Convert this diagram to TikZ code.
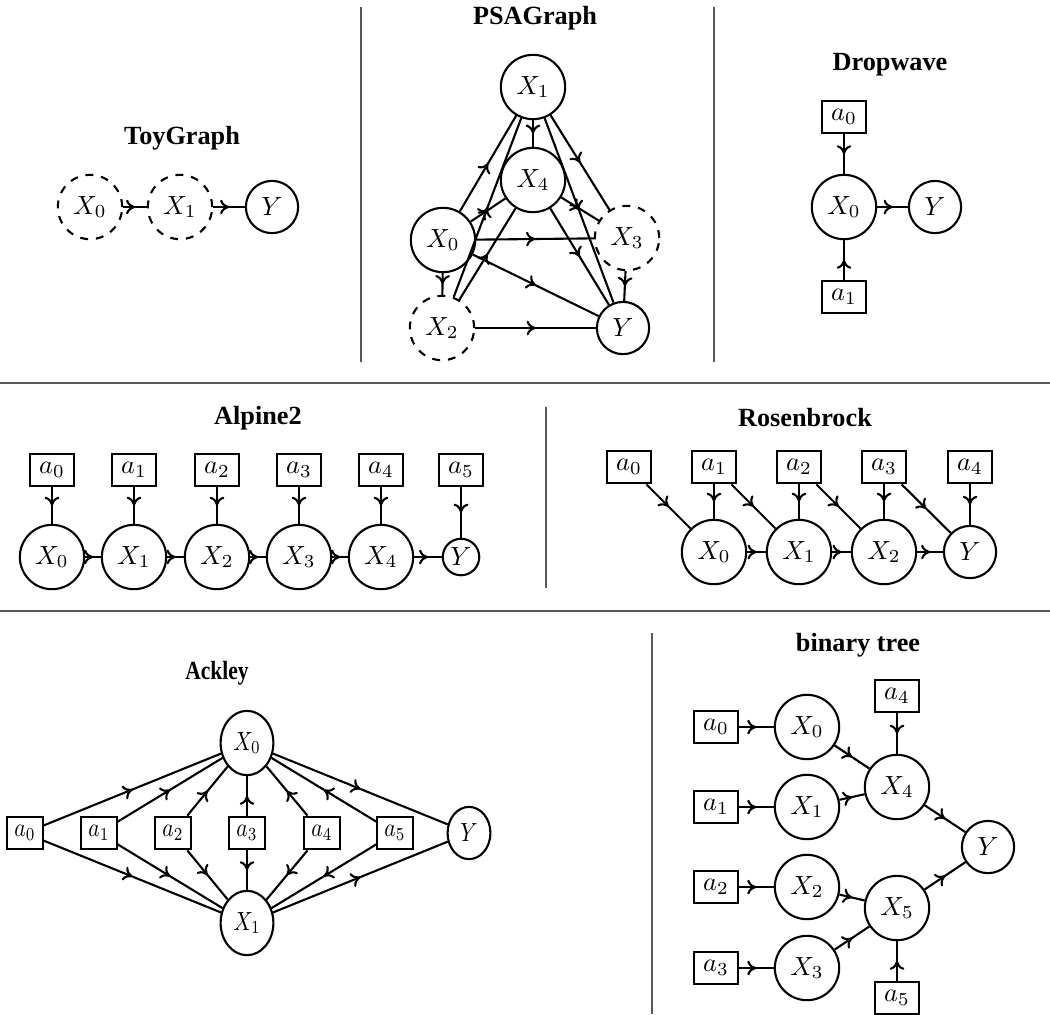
\documentclass[tikz,border=0pt]{standalone}
\usepackage[no-math]{fontspec}
\setmainfont{Liberation Serif}
\usetikzlibrary{arrows.meta}
\usetikzlibrary{decorations.markings}

\tikzset{
  var/.style={circle, draw, thick},
  hidvar/.style={var, dashed},
  act/.style={rectangle, draw, thick},
  gtitle/.style={font=\bfseries},
  link/.style={thick, postaction={decorate}, decoration={markings, mark=at position 0.5 with {\arrow{Computer Modern Rightarrow[length=3.4pt, width=5.6pt]}}}},
  sep/.style={black!65, line width=0.4pt},
  squeeze/.style={xscale=0.82},
}

\begin{document}
\begin{tikzpicture}[x=0.381pt, y=-0.381pt]
	\useasboundingbox (0,0) rectangle (1050,1014);
	% separators
	\draw[sep] (361,7) -- (361,362);
	\draw[sep] (714,7) -- (714,362);
	\draw[sep] (0,383) -- (1050,383);
	\draw[sep] (546,407) -- (546,588);
	\draw[sep] (0,611) -- (1050,611);
	\draw[sep] (652,633) -- (652,1014);

	% ToyGraph
	\node[gtitle] (toy) at (182,138) {ToyGraph};
	\node[hidvar] (t-x0) at (90,207) {$X_0$};
	\node[hidvar] (t-x1) at (180,207) {$X_1$};
	\node[var] (t-y) at (272,207) {$Y$};
	\draw[link] (t-x0) -- (t-x1);
	\draw[link] (t-x1) -- (t-y);

	% PSAGraph
	\node[gtitle] (psa) at (535,18) {PSAGraph};
	\node[var] (p-x1) at (533,87) {$X_1$};
	\node[var] (p-x4) at (533,180) {$X_4$};
	\node[var] (p-x0) at (443,240) {$X_0$};
	\node[hidvar] (p-x3) at (627,238) {$X_3$};
	\node[hidvar] (p-x2) at (442,328) {$X_2$};
	\node[var] (p-y) at (623,328) {$Y$};
	\draw[link] (p-x0) -- (p-x1);
	\draw[link] (p-x0) -- (p-x4);
	\draw[link] (p-x0) -- (p-x3);
	\draw[link] (p-x0) -- (p-y);
	\draw[link] (p-x0) -- (p-x2);
	\draw[link] (p-x1) -- (p-x4);
	\draw[link] (p-x1) -- (p-x3);
	\draw[link] (p-x1) -- (p-y);
	\draw[link] (p-x2) -- (p-x1);
	\draw[link] (p-x2) -- (p-x4);
	\draw[link] (p-x2) -- (p-y);
	\draw[link] (p-x3) -- (p-y);
	\draw[link] (p-x4) -- (p-x3);
	\draw[link] (p-x4) -- (p-y);

	% Dropwave
	\node[gtitle] (drop) at (890,65) {Dropwave};
	\node[act] (d-a0) at (844,117) {$a_0$};
	\node[var] (d-x0) at (844,207) {$X_0$};
	\node[var] (d-y) at (935,207) {$Y$};
	\node[act] (d-a1) at (844,297) {$a_1$};
	\draw[link] (d-a0) -- (d-x0);
	\draw[link] (d-a1) -- (d-x0);
	\draw[link] (d-x0) -- (d-y);

	% Alpine2
	\node[gtitle] (alp) at (258,418) {Alpine2};
	\node[act] (l-a0) at (52,470) {$a_0$};
	\node[act] (l-a1) at (134,470) {$a_1$};
	\node[act] (l-a2) at (217,470) {$a_2$};
	\node[act] (l-a3) at (299,470) {$a_3$};
	\node[act] (l-a4) at (381,470) {$a_4$};
	\node[act] (l-a5) at (461,470) {$a_5$};
	\node[var] (l-x0) at (52,557) {$X_0$};
	\node[var] (l-x1) at (134,557) {$X_1$};
	\node[var] (l-x2) at (217,557) {$X_2$};
	\node[var] (l-x3) at (299,557) {$X_3$};
	\node[var] (l-x4) at (381,557) {$X_4$};
	\node[var, inner sep=1.2pt] (l-y) at (461,557) {$Y$};
	\draw[link] (l-a0) -- (l-x0);
	\draw[link] (l-a1) -- (l-x1);
	\draw[link] (l-a2) -- (l-x2);
	\draw[link] (l-a3) -- (l-x3);
	\draw[link] (l-a4) -- (l-x4);
	\draw[link] (l-a5) -- (l-y);
	\draw[link] (l-x0) -- (l-x1);
	\draw[link] (l-x1) -- (l-x2);
	\draw[link] (l-x2) -- (l-x3);
	\draw[link] (l-x3) -- (l-x4);
	\draw[link] (l-x4) -- (l-y);

	% Rosenbrock
	\node[gtitle] (ros) at (805,418) {Rosenbrock};
	\node[act] (r-a0) at (629,467) {$a_0$};
	\node[act] (r-a1) at (714,467) {$a_1$};
	\node[act] (r-a2) at (799,467) {$a_2$};
	\node[act] (r-a3) at (884,467) {$a_3$};
	\node[act] (r-a4) at (970,467) {$a_4$};
	\node[var] (r-x0) at (714,552) {$X_0$};
	\node[var] (r-x1) at (799,552) {$X_1$};
	\node[var] (r-x2) at (884,552) {$X_2$};
	\node[var] (r-y) at (970,552) {$Y$};
	\draw[link] (r-a0) -- (r-x0);
	\draw[link] (r-a1) -- (r-x0);
	\draw[link] (r-a1) -- (r-x1);
	\draw[link] (r-a2) -- (r-x1);
	\draw[link] (r-a2) -- (r-x2);
	\draw[link] (r-a3) -- (r-x2);
	\draw[link] (r-a3) -- (r-y);
	\draw[link] (r-a4) -- (r-y);
	\draw[link] (r-x0) -- (r-x1);
	\draw[link] (r-x1) -- (r-x2);
	\draw[link] (r-x2) -- (r-y);

	% Ackley
	\node[gtitle, squeeze] (ack) at (217,673) {Ackley};
	\node[var, squeeze] (k-x0) at (247,743) {$X_0$};
	\node[var, squeeze] (k-x1) at (247,923) {$X_1$};
	\node[act, squeeze] (k-a0) at (25,833) {$a_0$};
	\node[act, squeeze] (k-a1) at (99,833) {$a_1$};
	\node[act, squeeze] (k-a2) at (173,833) {$a_2$};
	\node[act, squeeze] (k-a3) at (247,833) {$a_3$};
	\node[act, squeeze] (k-a4) at (322,833) {$a_4$};
	\node[act, squeeze] (k-a5) at (395,833) {$a_5$};
	\node[var, squeeze] (k-y) at (469,833) {$Y$};
	\draw[link] (k-a0) -- (k-x0);
	\draw[link] (k-a0) -- (k-x1);
	\draw[link] (k-a1) -- (k-x0);
	\draw[link] (k-a1) -- (k-x1);
	\draw[link] (k-a2) -- (k-x0);
	\draw[link] (k-a2) -- (k-x1);
	\draw[link] (k-a3) -- (k-x0);
	\draw[link] (k-a3) -- (k-x1);
	\draw[link] (k-a4) -- (k-x0);
	\draw[link] (k-a4) -- (k-x1);
	\draw[link] (k-a5) -- (k-x0);
	\draw[link] (k-a5) -- (k-x1);
	\draw[link] (k-x0) -- (k-y);
	\draw[link] (k-x1) -- (k-y);

	% binary tree
	\node[gtitle] (bin) at (858,645) {binary tree};
	\node[act] (b-a0) at (716,727) {$a_0$};
	\node[act] (b-a1) at (716,807) {$a_1$};
	\node[act] (b-a2) at (716,887) {$a_2$};
	\node[act] (b-a3) at (716,968) {$a_3$};
	\node[var] (b-x0) at (807,727) {$X_0$};
	\node[var] (b-x1) at (807,807) {$X_1$};
	\node[var] (b-x2) at (807,887) {$X_2$};
	\node[var] (b-x3) at (807,968) {$X_3$};
	\node[act] (b-a4) at (897,696) {$a_4$};
	\node[var] (b-x4) at (897,787) {$X_4$};
	\node[var] (b-x5) at (897,908) {$X_5$};
	\node[act] (b-a5) at (897,998) {$a_5$};
	\node[var] (b-y) at (988,847) {$Y$};
	\draw[link] (b-a0) -- (b-x0);
	\draw[link] (b-a1) -- (b-x1);
	\draw[link] (b-a2) -- (b-x2);
	\draw[link] (b-a3) -- (b-x3);
	\draw[link] (b-x0) -- (b-x4);
	\draw[link] (b-x1) -- (b-x4);
	\draw[link] (b-x2) -- (b-x5);
	\draw[link] (b-x3) -- (b-x5);
	\draw[link] (b-a4) -- (b-x4);
	\draw[link] (b-a5) -- (b-x5);
	\draw[link] (b-x4) -- (b-y);
	\draw[link] (b-x5) -- (b-y);
\end{tikzpicture}
\end{document}
